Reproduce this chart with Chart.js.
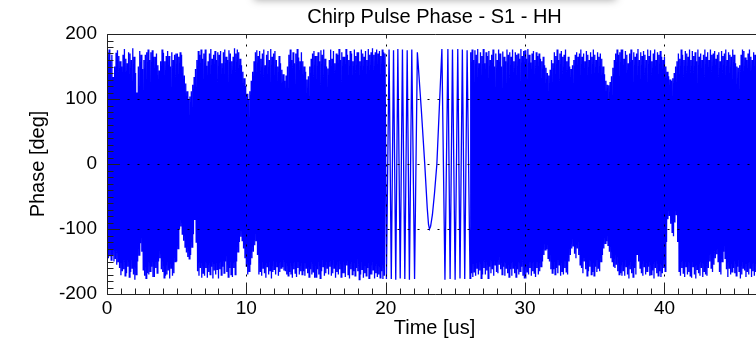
<!DOCTYPE html>
<html>
<head>
<meta charset="utf-8">
<script src="https://cdn.jsdelivr.net/npm/chart.js@4"></script>
<style>
  html, body { margin: 0; padding: 0; background: #fff; overflow: hidden; }
  canvas { display: block; }
</style>
</head>
<body>
<canvas id="phaseChart" width="762" height="339"></canvas>
<script>
// sample spacing of the fast parts of the record [us]
const SAMPLE_US = 0.05;

// 0.00 .. 19.95 us, one row per microsecond
const phaseLead = [
    -138, 172, -145, 176, -142, 160, -148, 168, -140, 134, -150, 150, -146, 171, -155, 175, -150, 166, -160, 158,
    -171, 150, -165, 168, -162, 177, -172, 162, -168, 155, -158, 172, -174, 170, -166, 160, -160, 178, -170, 165,
    -178, 140, -170, 110, -150, 150, -140, 174, -122, 168, -135, 146, -163, 160, -172, 168, -176, 172, -168, 176,
    -170, 160, -165, 172, -158, 175, -174, 165, -174, 165, -160, 170, -168, 152, -150, 144, -145, 158, -162, 176,
    -166, 171, -175, 158, -172, 166, -170, 174, -164, 166, -176, 150, -160, 172, -172, 160, -168, 168, -150, 170,
    -150, 170, -130, 165, -100, 172, -96, 168, -108, 150, -118, 136, -128, 124, -136, 112, -143, 100, -146, 104,
    -140, 112, -128, 122, -108, 134, -86, 146, -120, 160, -165, 174, -172, 168, -160, 176, -175, 162, -168, 170,
    -172, 176, -160, 151, -175, 158, -166, 170, -170, 177, -158, 162, -176, 168, -164, 174, -170, 160, -162, 172,
    -176, 168, -162, 174, -171, 155, -158, 172, -168, 176, -150, 165, -166, 160, -174, 175, -160, 170, -170, 158,
    -174, 165, -160, 178, -170, 170, -150, 176, -135, 172, -120, 162, -112, 152, -118, 142, -130, 132, -145, 120,
    -158, 108, -170, 100, -165, 112, -155, 128, -145, 142, -135, 158, -125, 172, -118, 175, -140, 166, -170, 174,
    -165, 162, -172, 170, -160, 176, -168, 152, -175, 168, -158, 174, -170, 160, -164, 177, -176, 165, -166, 170,
    -162, 174, -170, 160, -158, 150, -172, 166, -166, 155, -160, 145, -159, 138, -164, 128, -165, 136, -170, 150,
    -172, 168, -166, 176, -170, 160, -175, 172, -162, 155, -168, 170, -174, 177, -160, 164, -170, 158, -165, 172,
    -170, 158, -165, 150, -172, 142, -160, 130, -168, 135, -174, 150, -162, 162, -170, 170, -166, 174, -175, 166,
    -174, 166, -162, 172, -170, 158, -176, 175, -165, 168, -158, 176, -172, 162, -168, 150, -160, 147, -170, 160,
    -158, 176, -172, 162, -168, 174, -160, 155, -175, 170, -166, 168, -170, 177, -162, 160, -174, 172, -168, 165,
    -168, 165, -174, 177, -156, 168, -170, 160, -176, 174, -162, 170, -170, 158, -165, 176, -172, 166, -160, 172,
    -165, 172, -178, 158, -170, 176, -162, 170, -175, 165, -168, 174, -172, 160, -160, 177, -176, 168, -170, 172,
    -170, 178, -163, 168, -176, 172, -168, 176, -174, 170, -170, 174, -175, 166, -165, 176, -177, 172, -172, 170
];

// slow part of the sweep around the centre of the pulse
const chirpTime = [
    20.05, 20.24, 20.4, 20.56, 20.72, 20.87, 21.04, 21.2, 21.37, 21.54,
    21.7, 21.87, 22.07, 22.27, 22.55, 22.8, 22.98, 23.07, 23.14, 23.22,
    23.35, 23.5, 23.67, 23.85, 24.03, 24.25, 24.46, 24.62, 24.79, 24.98,
    25.17, 25.33, 25.5, 25.67, 25.84
];
const chirpPhase = [
    -177, 176, -177, 175, -178, 177, -176, 176, -177, 175,
    -178, 176, -177, 172, 85, 0, -68, -93, -100, -96,
    -78, -45, 0, 88, 177, -178, 177, -177, 176, -178,
    177, -176, 176, -177, 175
];

// 26.05 .. 47.00 us; first row is 26.05 .. 26.95, then one row per microsecond
const TAIL_START = 26.05;
const phaseTail = [
    -176, 172, -168, 176, -174, 160, -166, 175, -172, 168, -160, 177, -170, 155, -164, 172, -176, 166, -170,
    177, -160, 155, -170, 172, -164, 166, -176, 174, -158, 160, -168, 168, -162, 176, -172, 150, -155, 170, -166,
    160, -168, 176, -155, 170, -162, 150, -170, 173, -158, 165, -172, 158, -160, 176, -168, 168, -174, 172, -162,
    165, -172, 176, -160, 158, -168, 172, -174, 168, -162, 170, -170, 162, -165, 177, -158, 166, -172, 174, -176,
    175, -176, 162, -166, 177, -170, 168, -160, 156, -172, 170, -165, 174, -168, 160, -174, 172, -160, 166, -170,
    170, -165, 162, -158, 158, -150, 165, -140, 152, -132, 148, -131, 140, -145, 136, -150, 145, -162, 160, -168,
    155, -162, 172, -170, 166, -160, 176, -168, 160, -155, 170, -172, 174, -165, 165, -170, 168, -160, 176, -166,
    158, -170, 165, -150, 150, -140, 146, -130, 152, -126, 160, -138, 168, -145, 172, -130, 165, -140, 170, -155,
    176, -160, 165, -168, 170, -150, 158, -162, 174, -172, 168, -165, 160, -158, 172, -170, 165, -166, 176, -172,
    168, -158, 160, -166, 172, -160, 165, -165, 170, -150, 162, -140, 150, -130, 138, -122, 128, -119, 122, -125,
    121, -135, 126, -145, 135, -150, 148, -158, 160, -160, 170, -155, 176, -165, 168, -170, 172, -168, 176, -172,
    176, -165, 162, -172, 174, -158, 168, -170, 155, -176, 170, -162, 176, -168, 160, -174, 172, -160, 165, -170,
    170, -139, 177, -150, 160, -160, 172, -168, 166, -172, 174, -158, 168, -170, 160, -165, 176, -158, 166, -172,
    175, -170, 158, -164, 170, -176, 176, -160, 160, -168, 172, -172, 168, -165, 174, -174, 165, -168, 160, -160,
    165, -165, 150, -120, 142, -85, 135, -80, 130, -92, 128, -105, 132, -111, 140, -90, 150, -78, 158, -120,
    170, -165, 162, -172, 176, -160, 168, -168, 160, -174, 174, -158, 170, -170, 165, -166, 176, -172, 160, -175,
    174, -158, 166, -170, 172, -176, 158, -162, 176, -168, 165, -172, 170, -160, 160, -174, 168, -165, 176, -170,
    165, -172, 172, -160, 160, -150, 176, -160, 168, -166, 170, -155, 174, -145, 162, -139, 168, -150, 172, -166,
    158, -170, 174, -150, 166, -135, 170, -145, 176, -162, 160, -174, 172, -160, 168, -170, 165, -166, 176, -160,
    168, -168, 155, -172, 150, -158, 148, -165, 152, -176, 168, -170, 176, -160, 174, -164, 164, -174, 160, -166,
    170, -170, 176, -160, 165, -174, 160, -165, 172, -172, 168, -166, 158, -175, 176, -160, 170, -168, 166, -172,
    168
];

const xTicks = [0, 10, 20, 30, 40];
const yTicks = [-200, -100, 0, 100, 200];
const xGrid = [10, 20, 30, 40];
const yGrid = [-100, 0, 100];

const FONT = 'Liberation Sans, Arial, Helvetica, sans-serif';

// join the three pieces into one trace
function buildPoints() {
    const pts = [];
    phaseLead.forEach((v, i) => pts.push({ x: +(i * SAMPLE_US).toFixed(3), y: v }));
    chirpTime.forEach((t, i) => pts.push({ x: t, y: chirpPhase[i] }));
    phaseTail.forEach((v, i) => pts.push({ x: +(TAIL_START + i * SAMPLE_US).toFixed(3), y: v }));
    return pts;
}

// frame, ticks and dotted grid drawn on top of the trace
const framePlugin = {
    id: 'frame',
    beforeDraw(chart) {
        const ctx = chart.ctx;
        ctx.save();
        // shadow of a window edge along the top of the capture
        ctx.shadowColor = 'rgba(0, 0, 0, 0.35)';
        ctx.shadowBlur = 8;
        ctx.fillStyle = '#fff';
        ctx.fillRect(254, -40, 362, 40);
        ctx.restore();
    },
    afterDatasetsDraw(chart) {
        const { ctx, chartArea: a, scales: { x, y } } = chart;
        const px = v => Math.round(x.getPixelForValue(v)) + 0.5;
        const py = v => Math.round(y.getPixelForValue(v)) + 0.5;
        const top = Math.round(a.top) + 0.5;
        const bottom = Math.round(a.bottom) + 0.5;
        const left = Math.round(a.left) + 0.5;

        ctx.save();
        ctx.strokeStyle = '#000';
        ctx.lineWidth = 1;

        ctx.setLineDash([2, 8]);
        ctx.beginPath();
        xGrid.forEach(v => { ctx.moveTo(px(v), top); ctx.lineTo(px(v), bottom); });
        yGrid.forEach(v => { ctx.moveTo(left, py(v)); ctx.lineTo(a.right, py(v)); });
        ctx.stroke();
        ctx.setLineDash([]);

        ctx.strokeStyle = '#222';
        ctx.beginPath();
        for (let t = 0; t <= 47; t++) {
            const len = t % 10 === 0 ? 12 : 6;
            ctx.moveTo(px(t), bottom);
            ctx.lineTo(px(t), bottom - len);
            if (t % 10 === 0) {
                ctx.moveTo(px(t), top);
                ctx.lineTo(px(t), top + 4);
            }
        }
        for (let v = -200; v <= 200; v += 10) {
            const len = v % 100 === 0 ? 12 : 6;
            ctx.moveTo(left, py(v));
            ctx.lineTo(left + len, py(v));
        }
        ctx.stroke();

        ctx.beginPath();
        ctx.moveTo(a.right + 1, top);
        ctx.lineTo(left, top);
        ctx.lineTo(left, bottom);
        ctx.lineTo(a.right + 1, bottom);
        ctx.stroke();
        ctx.restore();
    }
};

function createChart() {
    const ctx = document.getElementById('phaseChart').getContext('2d');
    new Chart(ctx, {
        type: 'line',
        data: {
            datasets: [{
                data: buildPoints(),
                borderColor: '#0000ff',
                borderWidth: 1.3,
                borderJoinStyle: 'miter',
                pointRadius: 0,
                tension: 0,
                fill: false
            }]
        },
        options: {
            responsive: false,
            animation: false,
            events: [],
            layout: { padding: 0 },
            plugins: {
                legend: { display: false },
                tooltip: { enabled: false },
                title: {
                    display: true,
                    fullSize: false,
                    text: 'Chirp Pulse Phase - S1 - HH',
                    color: '#000',
                    font: { family: FONT, size: 20, weight: 'normal', lineHeight: 1 },
                    padding: { top: 7, bottom: 7 }
                }
            },
            scales: {
                x: {
                    type: 'linear',
                    min: 0,
                    max: 47,
                    afterBuildTicks: s => { s.ticks = xTicks.map(v => ({ value: v })); },
                    afterFit: s => { s.height = 45; },
                    grid: { display: false, drawTicks: false },
                    border: { display: false },
                    ticks: {
                        color: '#000',
                        font: { family: FONT, size: 19 },
                        padding: 3,
                        maxRotation: 0,
                        autoSkip: false
                    },
                    title: {
                        display: true,
                        text: 'Time [us]',
                        color: '#000',
                        font: { family: FONT, size: 20, lineHeight: 1 },
                        padding: { top: 0, bottom: 0.5 }
                    }
                },
                y: {
                    min: -200,
                    max: 200,
                    afterBuildTicks: s => { s.ticks = yTicks.map(v => ({ value: v })); },
                    afterFit: s => { s.width = 107; },
                    grid: { display: false, drawTicks: false },
                    border: { display: false },
                    ticks: {
                        color: '#000',
                        font: { family: FONT, size: 19 },
                        padding: 10
                    },
                    title: {
                        display: true,
                        text: 'Phase [deg]',
                        color: '#000',
                        font: { family: FONT, size: 20, lineHeight: 1 },
                        padding: { top: 28, bottom: 0 }
                    }
                }
            }
        },
        plugins: [framePlugin]
    });
}

document.addEventListener('DOMContentLoaded', createChart);
</script>
</body>
</html>
